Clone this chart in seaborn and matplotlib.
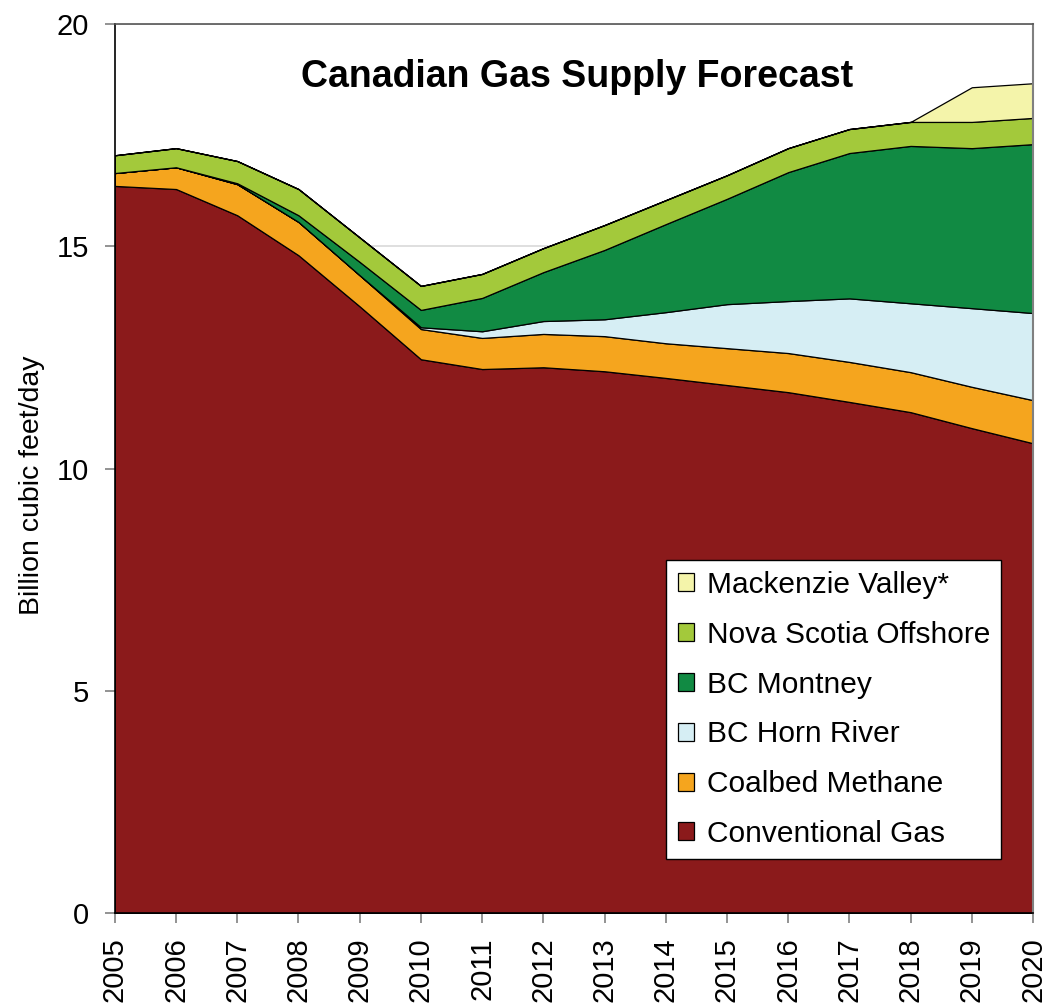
import numpy as np
import pandas as pd
import seaborn as sns
import matplotlib.pyplot as plt

# years and series (billion cubic feet/day)
years = list(range(2005, 2021))
conventional = [16.36, 16.29, 15.70, 14.80, 13.65, 12.46, 12.24, 12.28, 12.19, 12.04, 11.88, 11.72, 11.50, 11.27, 10.91, 10.57]
coalbed = [0.29, 0.49, 0.70, 0.75, 0.70, 0.68, 0.70, 0.75, 0.79, 0.78, 0.83, 0.88, 0.90, 0.90, 0.93, 0.97]
horn_river = [0, 0, 0, 0, 0, 0.04, 0.15, 0.29, 0.38, 0.70, 0.99, 1.17, 1.43, 1.55, 1.77, 1.96]
montney = [0, 0, 0.02, 0.15, 0.30, 0.39, 0.75, 1.10, 1.56, 1.98, 2.37, 2.90, 3.27, 3.54, 3.60, 3.80]
nova_scotia = [0.40, 0.43, 0.50, 0.59, 0.55, 0.54, 0.54, 0.54, 0.56, 0.54, 0.53, 0.54, 0.54, 0.54, 0.59, 0.59]
mackenzie = [0, 0, 0, 0, 0, 0, 0, 0, 0, 0, 0, 0, 0, 0, 0.78, 0.78]

labels = ['Conventional Gas', 'Coalbed Methane', 'BC Horn River',
          'BC Montney', 'Nova Scotia Offshore', 'Mackenzie Valley*']
colors = ['#8B1A1B', '#F5A51E', '#D6EEF4', '#118A43', '#A3C93B', '#F4F4AA']

df = pd.DataFrame({
    'year': years,
    labels[0]: conventional,
    labels[1]: coalbed,
    labels[2]: horn_river,
    labels[3]: montney,
    labels[4]: nova_scotia,
    labels[5]: mackenzie,
})

sns.set_style('white')
plt.rcParams['font.family'] = ['Liberation Sans', 'DejaVu Sans']
plt.rcParams['text.color'] = 'black'
plt.rcParams['axes.labelcolor'] = 'black'
plt.rcParams['xtick.color'] = 'black'
plt.rcParams['ytick.color'] = 'black'

fig = plt.figure(figsize=(10.44, 10.06), dpi=100)
ax = fig.add_axes([0.110, 0.0924, 0.8795, 0.8836])

polys = ax.stackplot(df['year'], [df[c] for c in labels], colors=colors,
                     edgecolor='black', linewidth=0.9, zorder=2)

# faint gridlines behind the areas
ax.set_yticks([0, 5, 10, 15, 20])
ax.yaxis.grid(True, color='#d9d9d9', linewidth=1.2, zorder=0)
ax.set_axisbelow(True)

ax.set_xlim(2005, 2020)
ax.set_ylim(0, 20)
ax.set_xticks(years)
ax.set_xticklabels([str(y) for y in years], rotation=90, fontsize=21)
ax.tick_params(axis='y', labelsize=21, length=7.5, width=1.2, color='#808080',
               labelcolor='black', pad=11, left=True)
ax.tick_params(axis='x', length=7.5, width=1.2, color='#808080',
               labelcolor='black', pad=10, bottom=True)

ax.set_ylabel('Billion cubic feet/day', fontsize=20.5)
ax.yaxis.set_label_coords(-0.076, 0.481)

for side in ['left', 'bottom']:
    ax.spines[side].set_color('black')
    ax.spines[side].set_linewidth(1.2)
ax.spines['top'].set_color('#555555')
ax.spines['top'].set_linewidth(1.2)
ax.spines['right'].set_color('#808080')
ax.spines['right'].set_linewidth(1.5)

ax.text(0.503, 0.941, 'Canadian Gas Supply Forecast', transform=ax.transAxes,
        ha='center', va='center', fontsize=27, fontweight='bold')

leg = ax.legend(polys[::-1], labels[::-1], loc='lower right',
                bbox_to_anchor=(0.9655, 0.0605), fontsize=21.5, frameon=True,
                fancybox=False, edgecolor='black', framealpha=1,
                handlelength=0.55, handleheight=0.55, handletextpad=0.42,
                labelspacing=0.73, borderpad=0.38, borderaxespad=0)
leg.get_frame().set_linewidth(1.0)

plt.savefig('out.png', dpi=100)
